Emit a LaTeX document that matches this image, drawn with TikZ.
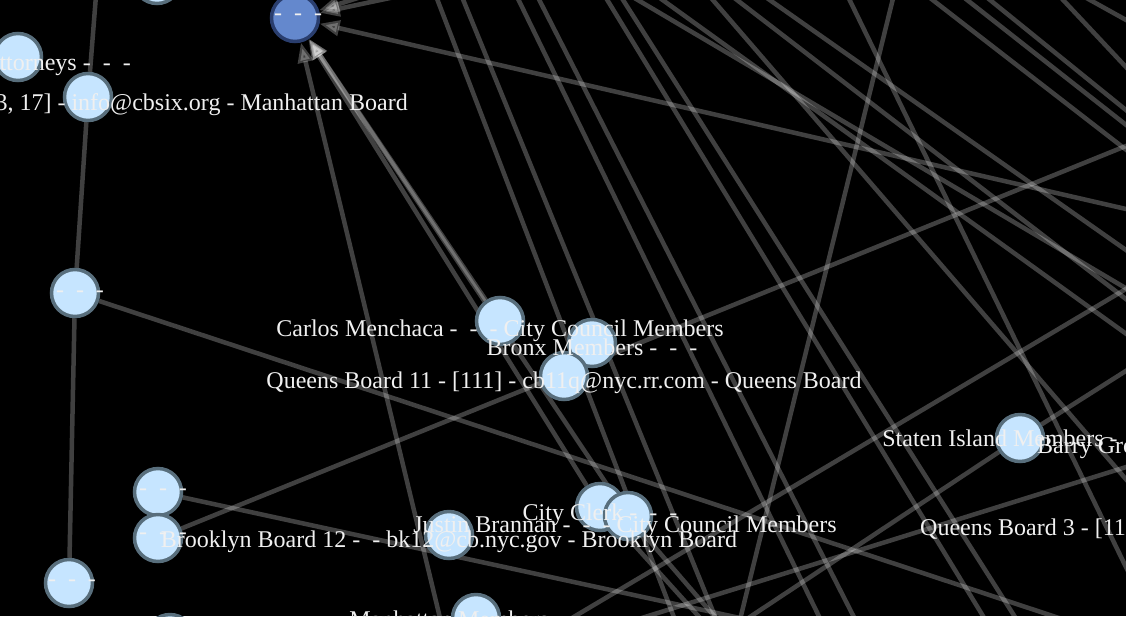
\documentclass[tikz,border=0pt]{standalone}
\usepackage{fontspec}
\setmainfont{Liberation Serif}
\usetikzlibrary{arrows.meta, backgrounds}
\definecolor{memberfill}{RGB}{198,229,255}
\definecolor{memberline}{RGB}{88,110,124}
\definecolor{groupfill}{RGB}{100,136,205}
\definecolor{groupline}{RGB}{42,62,110}
\definecolor{labeltext}{RGB}{240,240,240}
\newcommand{\gap}{\ \ }

\begin{document}
\begin{tikzpicture}[x=1pt, y=-1pt,
  member/.style={circle, draw=memberline, fill=memberfill, line width=3.5pt, minimum size=47pt, inner sep=0pt},
  group/.style={member, draw=groupline, fill=groupfill},
  link/.style={draw=white, opacity=0.25, line width=4.5pt},
  tag/.style={anchor=base, text=labeltext, font=\fontsize{24}{24}\selectfont, inner sep=0pt}]
  \useasboundingbox (0,0) rectangle (1126,616);
  \clip (0,0) rectangle (1126,616);

  % people and groups
  \node[group]  (hub)    at (295,18)   {};
  \node[member] (topm)   at (157,-20)  {};
  \node[member] (atty)   at (18,57)    {};
  \node[member] (mn6)    at (88,97)    {};
  \node[member] (blankA) at (75,293)   {};
  \node[member] (blankB) at (158,492)  {};
  \node[member] (blankC) at (158,538)  {};
  \node[member] (blankD) at (69,583)   {};
  \node[member] (botm)   at (170,638)  {};
  \node[member] (carlos) at (500,321)  {};
  \node[member] (bronx)  at (592,343)  {};
  \node[member] (qn11)   at (564,376)  {};
  \node[member] (bk12)   at (449,535)  {};
  \node[member] (clerk)  at (600,507)  {};
  \node[member] (justin) at (628,516)  {};
  \node[member] (staten) at (1020,438) {};
  \node[member] (mnmem)  at (476,618)  {};

  \begin{scope}[on background layer]
    \clip (0,0) rectangle (1126,616);
    \fill[black] (0,0) rectangle (1126,616);
    % free ends outside the frame
    \coordinate (oTop)     at (98,-30);
    \coordinate (oHubA)    at (1200,226);
    \coordinate (oHubB)    at (485,-22);
    \coordinate (oHubC)    at (430,-25);
    \coordinate (oHubD)    at (455,680);
    \coordinate (oBlankA)  at (1180,658);
    \coordinate (oBlankB)  at (800,631);
    \coordinate (oBlankC)  at (1200,116);
    \coordinate (oClerk)   at (738,660);
    \coordinate (oJustin)  at (752,660);
    \coordinate (oStatenR) at (1200,324);
    \coordinate (oStatenL) at (700,650);

    \draw[link] (oTop) -- (mn6);
    \draw[link] (mn6) -- (blankA);
    \draw[link] (blankA) -- (blankD);
    \draw[link] (blankA) -- (oBlankA);
    \draw[link] (blankB) -- (oBlankB);
    \draw[link] (blankC) -- (oBlankC);
    \draw[link] (clerk) -- (oClerk);
    \draw[link] (justin) -- (oJustin);
    \draw[link] (staten) -- (oStatenR);
    \draw[link] (staten) -- (oStatenL);
    \foreach \src in {oHubA, oHubB, oHubC, oHubD, carlos, clerk, justin}
      \draw[link, -{Triangle[length=20pt, width=15pt]}] (\src) -- (hub);

    % links that only cross the frame
    \foreach \i/\ax/\ay/\bx/\by in {
      1/426/-30/698/680, 2/451/-30/741/680, 3/504/-30/850/680, 4/524/-30/886/680,
      5/589/-30/1022/680, 6/604/-30/1055/680, 7/587/-30/1200/332, 8/621/-30/1200/387,
      9/687/-30/1299/680, 10/698/-30/1200/356, 11/727/-30/1200/302, 12/835/-30/1181/680,
      13/900/-30/735/640, 14/894/-30/1200/207, 15/929/-30/1200/183, 16/953/-30/1200/170,
      17/1035/-30/1200/146, 18/1036/-30/1200/61, 19/1200/245/545/634, 20/1200/444/600/631}
    {
      \coordinate (p\i) at (\ax,\ay);
      \coordinate (q\i) at (\bx,\by);
      \draw[link] (p\i) -- (q\i);
    }
  \end{scope}

  % labels
  \node[tag] (lHub)    at (298,20)  {-\gap-\gap-};
  \node[tag, anchor=base east] (lAtty) at (131,70)  {ttorneys -\gap-\gap-};
  \node[tag, anchor=base east] (lMn6)  at (408,110) {3, 17] - info@cbsix.org - Manhattan Board};
  \node[tag] (lBlankA) at (80,297)  {-\gap-\gap-};
  \node[tag] (lBlankB) at (163,495) {-\gap-\gap-};
  \node[tag] (lBlankC) at (163,539) {-\gap-\gap-};
  \node[tag] (lBlankD) at (72,586)  {-\gap-\gap-};
  \node[tag] (lCarlos) at (500,336) {Carlos Menchaca -\gap-\gap- City Council Members};
  \node[tag] (lBronx)  at (592,355) {Bronx Members -\gap-\gap-};
  \node[tag] (lQn11)   at (564,388) {Queens Board 11 - [111] - cb11q@nyc.rr.com - Queens Board};
  \node[tag] (lBk12)   at (449,547) {Brooklyn Board 12 -\gap- bk12@cb.nyc.gov - Brooklyn Board};
  \node[tag] (lClerk)  at (600,520) {City Clerk -\gap-\gap-};
  \node[tag] (lJustin) at (625,532) {Justin Brannan -\gap-\gap- City Council Members};
  \node[tag] (lStaten) at (1020,446) {Staten Island Members -\gap-\gap-};
  \node[tag, anchor=base west] (lBarry) at (1037,453) {Barry Gro};
  \node[tag, anchor=base west] (lQn3)   at (920,535)  {Queens Board 3 - [11};
  \node[tag] (lMnMem)  at (476,627) {Manhattan Members -\gap-\gap-};
\end{tikzpicture}
\end{document}
